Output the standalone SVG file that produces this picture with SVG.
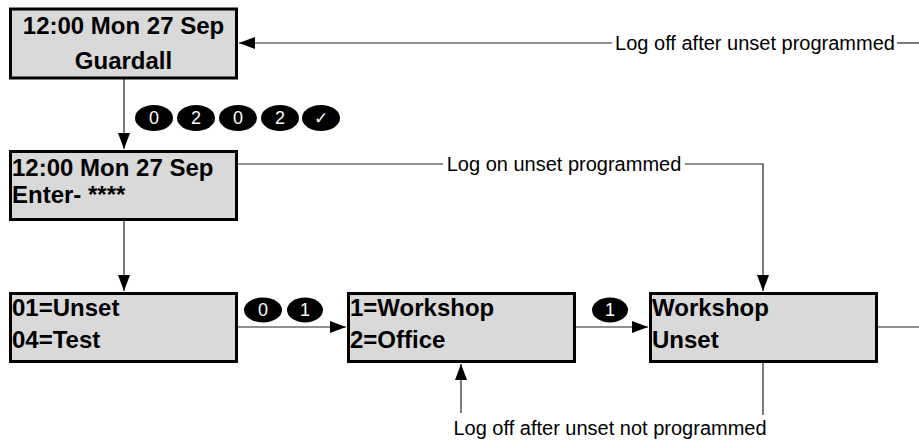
<svg xmlns="http://www.w3.org/2000/svg" width="919" height="440" viewBox="0 0 919 440">
<style>
.box{fill:#d9d9d9;stroke:#000;stroke-width:3}
.bt{font-family:"Liberation Sans",Arial,sans-serif;font-weight:bold;font-size:24px;fill:#000}
.lbl{font-family:"Liberation Sans",Arial,sans-serif;font-size:20px;fill:#000}
.ln{stroke:#222;stroke-width:1.2;fill:none}
.key{fill:#000}
.kt{font-family:"Liberation Sans",Arial,sans-serif;font-size:18px;fill:#fff;text-anchor:middle}
</style>
<defs>
<marker id="ah" viewBox="0 0 16 12" refX="16" refY="6" markerWidth="16" markerHeight="12" markerUnits="userSpaceOnUse" orient="auto">
<path d="M0,0 L16,6 L0,12 Z" fill="#000"/>
</marker>
</defs>
<rect width="919" height="440" fill="#fff"/>
<g id="connectors">
<line class="ln" x1="124" y1="79" x2="124" y2="149" marker-end="url(#ah)"/>
<line class="ln" x1="124" y1="221" x2="124" y2="291" marker-end="url(#ah)"/>
<line class="ln" x1="238" y1="327" x2="346" y2="327" marker-end="url(#ah)"/>
<line class="ln" x1="576" y1="327" x2="648" y2="327" marker-end="url(#ah)"/>
<line class="ln" x1="878" y1="327" x2="919" y2="327"/>
<line class="ln" x1="461" y1="413" x2="461" y2="364" marker-end="url(#ah)"/>
<line class="ln" x1="763" y1="363" x2="763" y2="415"/>
<line class="ln" x1="238" y1="164" x2="443" y2="164"/>
<polyline class="ln" points="685,164 763,164 763,291" marker-end="url(#ah)"/>
<line class="ln" x1="919" y1="43" x2="897" y2="43"/>
<line class="ln" x1="612" y1="43" x2="239" y2="43" marker-end="url(#ah)"/>
<text class="lbl" x="564" y="171" text-anchor="middle">Log on unset programmed</text>
<text class="lbl" x="755" y="50" text-anchor="middle">Log off after unset programmed</text>
<text class="lbl" x="610" y="435" text-anchor="middle">Log off after unset not programmed</text>
</g>
<g id="keys-top">
<ellipse class="key" cx="154" cy="118" rx="19" ry="13"/><text class="kt" x="154" y="124">0</text>
<ellipse class="key" cx="196" cy="118" rx="19" ry="13"/><text class="kt" x="196" y="124">2</text>
<ellipse class="key" cx="238" cy="118" rx="19" ry="13"/><text class="kt" x="238" y="124">0</text>
<ellipse class="key" cx="280" cy="118" rx="19" ry="13"/><text class="kt" x="280" y="124">2</text>
<ellipse class="key" cx="321" cy="118" rx="19" ry="13"/><text class="kt" x="321" y="124" style="font-family:'DejaVu Sans',sans-serif;font-size:17px">✓</text>
</g>
<g id="keys-01">
<ellipse class="key" cx="263" cy="310" rx="19" ry="12.5"/><text class="kt" x="263" y="316">0</text>
<ellipse class="key" cx="305" cy="310" rx="18" ry="12.5"/><text class="kt" x="305" y="316">1</text>
</g>
<g id="keys-1">
<ellipse class="key" cx="610" cy="310" rx="18" ry="12.5"/><text class="kt" x="610" y="316">1</text>
</g>
<g id="n1">
<rect class="box" x="10.5" y="9" width="226" height="69"/>
<text class="bt" x="123.5" y="34" text-anchor="middle">12:00 Mon 27 Sep</text>
<text class="bt" x="123.5" y="69" text-anchor="middle">Guardall</text>
</g>
<g id="n2">
<rect class="box" x="10.5" y="151.5" width="226" height="68"/>
<text class="bt" x="12" y="176">12:00 Mon 27 Sep</text>
<text class="bt" x="12" y="203">Enter- ****</text>
</g>
<g id="n3">
<rect class="box" x="10.5" y="293.5" width="226" height="68"/>
<text class="bt" x="12" y="316">01=Unset</text>
<text class="bt" x="12" y="348">04=Test</text>
</g>
<g id="n4">
<rect class="box" x="348.5" y="293.5" width="226" height="68"/>
<text class="bt" x="350" y="316">1=Workshop</text>
<text class="bt" x="350" y="348">2=Office</text>
</g>
<g id="n5">
<rect class="box" x="650.5" y="293.5" width="226" height="68"/>
<text class="bt" x="652" y="316">Workshop</text>
<text class="bt" x="652" y="348">Unset</text>
</g>
</svg>
